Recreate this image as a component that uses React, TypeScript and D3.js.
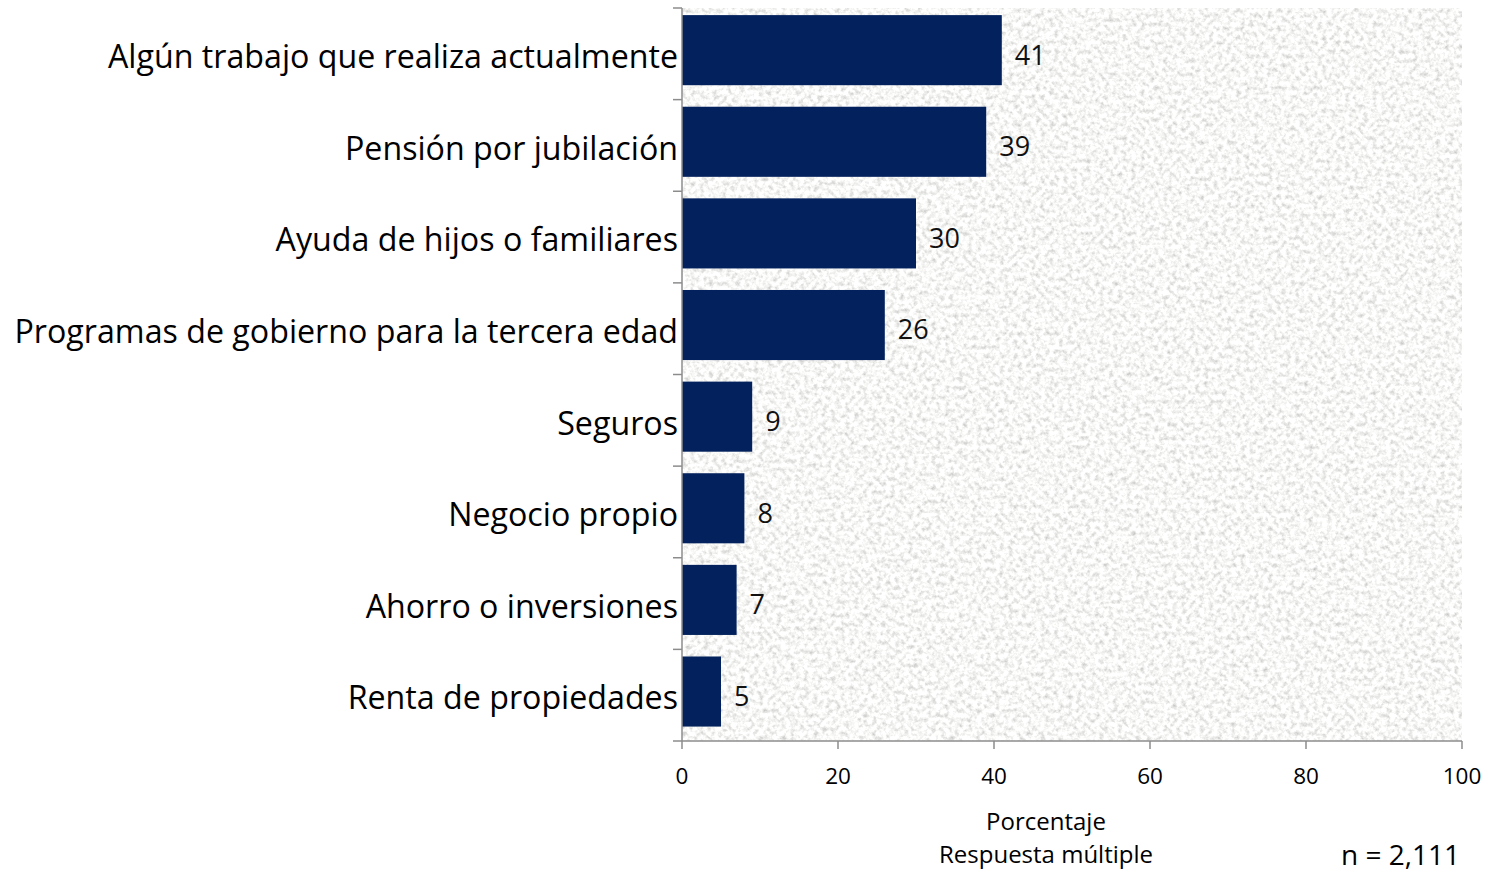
import React from "react";
import * as d3 from "d3";

const categories = [
  "Algún trabajo que realiza actualmente",
  "Pensión por jubilación",
  "Ayuda de hijos o familiares",
  "Programas de gobierno para la tercera edad",
  "Seguros",
  "Negocio propio",
  "Ahorro o inversiones",
  "Renta de propiedades",
];
const values = [41, 39, 30, 26, 9, 8, 7, 5];
const xTicks = [0, 20, 40, 60, 80, 100];
const axisTitle = ["Porcentaje", "Respuesta múltiple"];
const note = "n = 2,111";

const W = 1489;
const H = 872;
const M = { left: 682, right: 27, top: 8, bottom: 131 };
const FONT = "'Open Sans', Lato, sans-serif";

export default function App() {
  const x = d3.scaleLinear().domain([0, 100]).range([M.left, W - M.right]);
  const yBottom = H - M.bottom;
  const y = d3
    .scaleBand<string>()
    .domain(categories)
    .range([M.top, yBottom])
    .paddingInner(0.235)
    .paddingOuter(0.1175)
    .align(0.33);
  const yc = d3
    .scaleBand<string>()
    .domain(categories)
    .range([M.top, yBottom]);
  const x0 = x(0);
  const bandEdges = d3.range(categories.length + 1).map((i) => M.top + i * yc.step());

  return (
    <svg width={W} height={H} style={{ position: "absolute", left: 0, top: 0, background: "#fff" }}>
      <defs>
        <filter id="grain" x="0" y="0" width="100%" height="100%" filterUnits="objectBoundingBox">
          <feTurbulence type="fractalNoise" baseFrequency="0.22" numOctaves="3" seed="7" result="n" />
          <feColorMatrix
            type="matrix"
            values="0.85 0 0 0 0.51  0.85 0 0 0 0.51  0.85 0 0 0 0.50  0 0 0 0 1"
          />
        </filter>
      </defs>
      <rect
        x={x0}
        y={M.top}
        width={x(100) - x0}
        height={yBottom - M.top}
        fill="#ebebe9"
        filter="url(#grain)"
      />
      {categories.map((c, i) => (
        <rect
          key={c}
          x={x0}
          y={y(c)!}
          width={x(values[i]) - x0}
          height={y.bandwidth()}
          fill="#03215c"
        />
      ))}
      {categories.map((c, i) => (
        <text
          key={"v" + c}
          x={x(values[i]) + 13}
          y={y(c)! + y.bandwidth() / 2 + 5}
          dy="0.35em"
          fontFamily={FONT}
          fontSize={27}
          fill="#111"
        >
          {values[i]}
        </text>
      ))}
      {/* left axis */}
      <line x1={x0} x2={x0} y1={M.top} y2={yBottom} stroke="#8c8c8c" strokeWidth={1.5} />
      {bandEdges.map((e, i) => (
        <line key={"t" + i} x1={x0 - 9} x2={x0} y1={e} y2={e} stroke="#8c8c8c" strokeWidth={1.5} />
      ))}
      {categories.map((c) => (
        <text
          key={"l" + c}
          x={x0 - 4}
          y={yc(c)! + yc.bandwidth() / 2 + 3}
          dy="0.35em"
          textAnchor="end"
          fontFamily={FONT}
          fontSize={32.2}
          fill="#000"
        >
          {c}
        </text>
      ))}
      {/* bottom axis */}
      <line x1={x0} x2={x(100)} y1={yBottom} y2={yBottom} stroke="#8c8c8c" strokeWidth={1.5} />
      {xTicks.map((t) => (
        <g key={"x" + t}>
          <line x1={x(t)} x2={x(t)} y1={yBottom} y2={yBottom + 8} stroke="#8c8c8c" strokeWidth={1.5} />
          <text
            x={x(t)}
            y={yBottom + 35}
            dy="0.35em"
            textAnchor="middle"
            fontFamily={FONT}
            fontSize={22.5}
            fill="#000"
          >
            {t}
          </text>
        </g>
      ))}
      {axisTitle.map((t, i) => (
        <text
          key={t}
          x={1046}
          y={822 + i * 33}
          dy="0.35em"
          textAnchor="middle"
          fontFamily={FONT}
          fontSize={24}
          fill="#000"
        >
          {t}
        </text>
      ))}
      <text
        x={1460}
        y={855}
        dy="0.35em"
        textAnchor="end"
        fontFamily={FONT}
        fontSize={28}
        fill="#000"
      >
        {note}
      </text>
    </svg>
  );
}
